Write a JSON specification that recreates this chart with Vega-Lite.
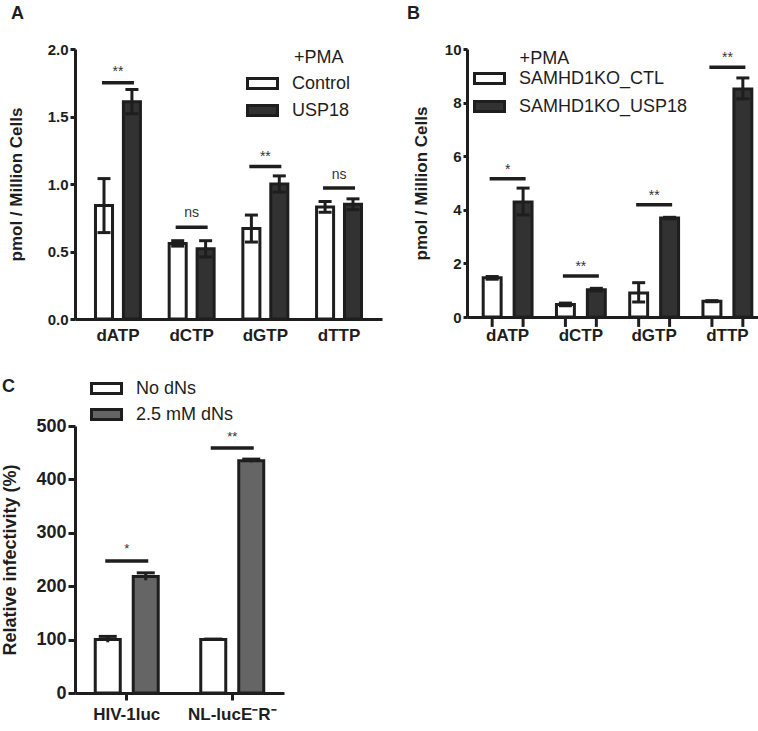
{
  "$schema": "https://vega.github.io/schema/vega-lite/v6.json",
  "padding": {"left": 1, "top": 5, "right": 0, "bottom": 0},
  "background": "white",
  "config": {
    "font": "Liberation Sans",
    "view": {"stroke": null},
    "axis": {"domainColor": "#1e1e1e", "domainWidth": 3, "tickColor": "#1e1e1e", "tickWidth": 3, "labelColor": "#1e1e1e", "titleColor": "#1e1e1e", "labelFontWeight": "bold", "titleFontWeight": "bold", "grid": false, "labelFont": "Liberation Sans", "titleFont": "Liberation Sans"},
    "legend": {"labelFont": "Liberation Sans", "titleFont": "Liberation Sans", "labelFontSize": 18, "labelColor": "#1e1e1e", "labelLimit": 300, "titleFontSize": 18, "titleFontWeight": "normal", "titleColor": "#1e1e1e", "symbolType": "M-1.5,-0.5H1.5V0.5H-1.5Z", "symbolSize": 400, "symbolStrokeColor": "#1e1e1e", "symbolStrokeWidth": 3, "labelOffset": 18, "rowPadding": 4},
    "title": {"fontSize": 18, "fontWeight": "bold", "anchor": "start", "frame": "group", "color": "#1e1e1e", "font": "Liberation Sans"}
  },
  "datasets": {
    "a": [
      {"nt": "dATP", "grp": "Control", "mean": 0.84, "lo": 0.64, "hi": 1.04},
      {"nt": "dATP", "grp": "USP18", "mean": 1.61, "lo": 1.52, "hi": 1.70},
      {"nt": "dCTP", "grp": "Control", "mean": 0.56, "lo": 0.54, "hi": 0.58},
      {"nt": "dCTP", "grp": "USP18", "mean": 0.52, "lo": 0.46, "hi": 0.58},
      {"nt": "dGTP", "grp": "Control", "mean": 0.67, "lo": 0.57, "hi": 0.77},
      {"nt": "dGTP", "grp": "USP18", "mean": 1.00, "lo": 0.94, "hi": 1.06},
      {"nt": "dTTP", "grp": "Control", "mean": 0.83, "lo": 0.79, "hi": 0.87},
      {"nt": "dTTP", "grp": "USP18", "mean": 0.85, "lo": 0.81, "hi": 0.89}
    ],
    "as": [
      {"nt": "dATP", "line": 1.75, "ty": 1.80, "lab": "**"},
      {"nt": "dCTP", "line": 0.68, "ty": 0.754, "lab": "ns"},
      {"nt": "dGTP", "line": 1.13, "ty": 1.17, "lab": "**"},
      {"nt": "dTTP", "line": 0.97, "ty": 1.04, "lab": "ns"}
    ],
    "ah": [
      {"nt": "dTTP", "ty": 1.896, "lab": "+PMA"}
    ],
    "b": [
      {"nt": "dATP", "grp": "SAMHD1KO_CTL", "mean": 1.46, "lo": 1.41, "hi": 1.51},
      {"nt": "dATP", "grp": "SAMHD1KO_USP18", "mean": 4.29, "lo": 3.81, "hi": 4.81},
      {"nt": "dCTP", "grp": "SAMHD1KO_CTL", "mean": 0.47, "lo": 0.42, "hi": 0.52},
      {"nt": "dCTP", "grp": "SAMHD1KO_USP18", "mean": 1.02, "lo": 0.97, "hi": 1.07},
      {"nt": "dGTP", "grp": "SAMHD1KO_CTL", "mean": 0.90, "lo": 0.56, "hi": 1.28},
      {"nt": "dGTP", "grp": "SAMHD1KO_USP18", "mean": 3.69, "lo": 3.66, "hi": 3.72},
      {"nt": "dTTP", "grp": "SAMHD1KO_CTL", "mean": 0.59, "lo": 0.57, "hi": 0.61},
      {"nt": "dTTP", "grp": "SAMHD1KO_USP18", "mean": 8.51, "lo": 8.14, "hi": 8.92}
    ],
    "bs": [
      {"nt": "dATP", "line": 5.16, "ty": 5.35, "lab": "*"},
      {"nt": "dCTP", "line": 1.53, "ty": 1.72, "lab": "**"},
      {"nt": "dGTP", "line": 4.19, "ty": 4.37, "lab": "**"},
      {"nt": "dTTP", "line": 9.32, "ty": 9.5, "lab": "**"}
    ],
    "bh": [
      {"nt": "dATP", "ty": 9.44, "lab": "+PMA"}
    ],
    "c": [
      {"cond": "HIV-1luc", "grp": "No dNs", "mean": 100, "lo": 95, "hi": 106},
      {"cond": "HIV-1luc", "grp": "2.5 mM dNs", "mean": 218, "lo": 211, "hi": 225},
      {"cond": "NL-lucE\u207bR\u207b", "grp": "No dNs", "mean": 100, "lo": 99, "hi": 101},
      {"cond": "NL-lucE\u207bR\u207b", "grp": "2.5 mM dNs", "mean": 435, "lo": 432, "hi": 438}
    ],
    "cs": [
      {"cond": "HIV-1luc", "line": 247, "ty": 262, "lab": "*"},
      {"cond": "NL-lucE\u207bR\u207b", "line": 459, "ty": 472, "lab": "**"}
    ]
  },
  "resolve": {"scale": {"fill": "independent", "xOffset": "independent"}, "legend": {"fill": "independent"}},
  "align": "none",
  "vconcat": [
    {
      "bounds": "flush",
      "spacing": 85,
      "resolve": {"scale": {"fill": "independent", "xOffset": "independent"}, "legend": {"fill": "independent"}},
      "hconcat": [
        {
          "width": 307,
          "height": 270,
          "title": {"text": "A", "dx": -64, "dy": -15},
          "layer": [
            {
              "data": {"name": "a"},
              "mark": {"type": "bar", "stroke": "#1e1e1e", "strokeWidth": 3},
              "encoding": {
                "x": {"field": "nt", "type": "nominal", "title": null, "scale": {"domain": ["dATP", "dCTP", "dGTP", "dTTP"], "paddingInner": 0.39, "paddingOuter": 0.278}, "axis": {"ticks": false, "labelFontSize": 17, "labelPadding": 8, "labelAngle": 0}},
                "xOffset": {"field": "grp", "type": "nominal", "scale": {"domain": ["Control", "USP18"], "paddingInner": 0.39, "paddingOuter": 0}},
                "y": {"field": "mean", "type": "quantitative", "title": "pmol / Million Cells", "scale": {"domain": [0, 2], "nice": false}, "axis": {"values": [0, 0.5, 1, 1.5, 2], "format": ".1f", "labelFontSize": 15, "tickSize": 5, "labelPadding": 2, "titleFontSize": 17, "titlePadding": 22}},
                "fill": {"field": "grp", "type": "nominal", "scale": {"domain": ["Control", "USP18"], "range": ["#ffffff", "#323232"]}, "legend": {"title": null, "orient": "none", "legendX": 176, "legendY": 23, "rowPadding": 4}}
              }
            },
            {
              "data": {"name": "a"},
              "mark": {"type": "rule", "stroke": "#1e1e1e", "strokeWidth": 3},
              "encoding": {
                "x": {"field": "nt", "type": "nominal", "title": null},
                "xOffset": {"field": "grp", "type": "nominal"},
                "y": {"field": "lo", "type": "quantitative", "title": "pmol / Million Cells"},
                "y2": {"field": "hi"}
              }
            },
            {
              "data": {"name": "a"},
              "mark": {"type": "tick", "orient": "horizontal", "color": "#1e1e1e", "size": 13, "thickness": 3, "opacity": 1},
              "encoding": {
                "x": {"field": "nt", "type": "nominal", "title": null},
                "xOffset": {"field": "grp", "type": "nominal"},
                "y": {"field": "hi", "type": "quantitative", "title": "pmol / Million Cells"}
              }
            },
            {
              "data": {"name": "a"},
              "mark": {"type": "tick", "orient": "horizontal", "color": "#1e1e1e", "size": 13, "thickness": 3, "opacity": 1},
              "encoding": {
                "x": {"field": "nt", "type": "nominal", "title": null},
                "xOffset": {"field": "grp", "type": "nominal"},
                "y": {"field": "lo", "type": "quantitative", "title": "pmol / Million Cells"}
              }
            },
            {
              "data": {"name": "as"},
              "mark": {"type": "tick", "orient": "horizontal", "color": "#1e1e1e", "size": 32, "thickness": 3.5, "opacity": 1},
              "encoding": {
                "x": {"field": "nt", "type": "nominal", "title": null},
                "y": {"field": "line", "type": "quantitative", "title": "pmol / Million Cells"}
              }
            },
            {
              "data": {"name": "as"},
              "mark": {"type": "text", "fontSize": 14, "color": "#333333", "baseline": "alphabetic"},
              "encoding": {
                "x": {"field": "nt", "type": "nominal", "title": null},
                "y": {"field": "ty", "type": "quantitative", "title": "pmol / Million Cells"},
                "text": {"field": "lab"}
              }
            },
            {
              "data": {"name": "ah"},
              "mark": {"type": "text", "fontSize": 18, "color": "#1e1e1e", "baseline": "alphabetic", "align": "left", "dx": -45},
              "encoding": {
                "x": {"field": "nt", "type": "nominal", "title": null},
                "y": {"field": "ty", "type": "quantitative", "title": "pmol / Million Cells"},
                "text": {"field": "lab"}
              }
            }
          ]
        },
        {
          "width": 295,
          "height": 268,
          "title": {"text": "B", "dx": -60, "dy": -15},
          "layer": [
            {
              "data": {"name": "b"},
              "mark": {"type": "bar", "stroke": "#1e1e1e", "strokeWidth": 3},
              "encoding": {
                "x": {"field": "nt", "type": "nominal", "title": null, "scale": {"domain": ["dATP", "dCTP", "dGTP", "dTTP"], "paddingInner": 0.333, "paddingOuter": 0.18, "align": 0.614}, "axis": {"ticks": false, "labelFontSize": 17, "labelPadding": 10, "labelAngle": 0}},
                "xOffset": {"field": "grp", "type": "nominal", "scale": {"domain": ["SAMHD1KO_CTL", "SAMHD1KO_USP18"], "paddingInner": 0.42, "paddingOuter": 0}},
                "y": {"field": "mean", "type": "quantitative", "title": "pmol / Million Cells", "scale": {"domain": [0, 10], "nice": false}, "axis": {"values": [0, 2, 4, 6, 8, 10], "format": "d", "labelFontSize": 15, "tickSize": 4, "labelPadding": 2, "titleFontSize": 17, "titlePadding": 14}},
                "fill": {"field": "grp", "type": "nominal", "scale": {"domain": ["SAMHD1KO_CTL", "SAMHD1KO_USP18"], "range": ["#ffffff", "#323232"]}, "legend": {"title": null, "orient": "none", "legendX": 11, "legendY": 18, "rowPadding": 5}}
              }
            },
            {
              "data": {"name": "b"},
              "mark": {"type": "rule", "stroke": "#1e1e1e", "strokeWidth": 3},
              "encoding": {
                "x": {"field": "nt", "type": "nominal", "title": null},
                "xOffset": {"field": "grp", "type": "nominal"},
                "y": {"field": "lo", "type": "quantitative", "title": "pmol / Million Cells"},
                "y2": {"field": "hi"}
              }
            },
            {
              "data": {"name": "b"},
              "mark": {"type": "tick", "orient": "horizontal", "color": "#1e1e1e", "size": 13, "thickness": 3, "opacity": 1},
              "encoding": {
                "x": {"field": "nt", "type": "nominal", "title": null},
                "xOffset": {"field": "grp", "type": "nominal"},
                "y": {"field": "hi", "type": "quantitative", "title": "pmol / Million Cells"}
              }
            },
            {
              "data": {"name": "b"},
              "mark": {"type": "tick", "orient": "horizontal", "color": "#1e1e1e", "size": 13, "thickness": 3, "opacity": 1},
              "encoding": {
                "x": {"field": "nt", "type": "nominal", "title": null},
                "xOffset": {"field": "grp", "type": "nominal"},
                "y": {"field": "lo", "type": "quantitative", "title": "pmol / Million Cells"}
              }
            },
            {
              "data": {"name": "b"},
              "mark": {"type": "rule", "stroke": "#1e1e1e", "strokeWidth": 3},
              "encoding": {
                "x": {"field": "nt", "type": "nominal", "title": null},
                "xOffset": {"field": "grp", "type": "nominal"},
                "y": {"datum": 0, "type": "quantitative"},
                "y2": {"datum": -0.37}
              }
            },
            {
              "data": {"name": "bs"},
              "mark": {"type": "tick", "orient": "horizontal", "color": "#1e1e1e", "size": 36, "thickness": 3.5, "opacity": 1},
              "encoding": {
                "x": {"field": "nt", "type": "nominal", "title": null},
                "y": {"field": "line", "type": "quantitative", "title": "pmol / Million Cells"}
              }
            },
            {
              "data": {"name": "bs"},
              "mark": {"type": "text", "fontSize": 14, "color": "#333333", "baseline": "alphabetic"},
              "encoding": {
                "x": {"field": "nt", "type": "nominal", "title": null},
                "y": {"field": "ty", "type": "quantitative", "title": "pmol / Million Cells"},
                "text": {"field": "lab"}
              }
            },
            {
              "data": {"name": "bh"},
              "mark": {"type": "text", "fontSize": 18, "color": "#1e1e1e", "baseline": "alphabetic", "align": "left", "dx": 12},
              "encoding": {
                "x": {"field": "nt", "type": "nominal", "title": null},
                "y": {"field": "ty", "type": "quantitative", "title": "pmol / Million Cells"},
                "text": {"field": "lab"}
              }
            }
          ]
        }
      ]
    },
    {
      "width": 209,
      "height": 267,
      "title": {"text": "C", "dx": -73, "dy": 23},
      "layer": [
        {
          "data": {"name": "c"},
          "mark": {"type": "bar", "stroke": "#1e1e1e", "strokeWidth": 3},
          "encoding": {
            "x": {"field": "cond", "type": "nominal", "title": null, "scale": {"domain": ["HIV-1luc", "NL-lucE\u207bR\u207b"], "paddingInner": 0.403, "paddingOuter": 0.192}, "axis": {"ticks": true, "tickSize": 7, "labelFontSize": 17, "labelPadding": 6, "labelAngle": 0}},
            "xOffset": {"field": "grp", "type": "nominal", "scale": {"domain": ["No dNs", "2.5 mM dNs"], "paddingInner": 0.342, "paddingOuter": 0}},
            "y": {"field": "mean", "type": "quantitative", "title": "Relative infectivity (%)", "scale": {"domain": [0, 500], "nice": false}, "axis": {"values": [0, 100, 200, 300, 400, 500], "format": "d", "labelFontSize": 18, "tickSize": 7, "labelPadding": 2, "titleFontSize": 18, "titlePadding": 16}},
            "fill": {"field": "grp", "type": "nominal", "scale": {"domain": ["No dNs", "2.5 mM dNs"], "range": ["#ffffff", "#656565"]}, "legend": {"title": null, "orient": "none", "legendX": 20, "legendY": -49, "rowPadding": 3}}
          }
        },
        {
          "data": {"name": "c"},
          "mark": {"type": "rule", "stroke": "#1e1e1e", "strokeWidth": 3},
          "encoding": {
            "x": {"field": "cond", "type": "nominal", "title": null},
            "xOffset": {"field": "grp", "type": "nominal"},
            "y": {"field": "lo", "type": "quantitative", "title": "Relative infectivity (%)"},
            "y2": {"field": "hi"}
          }
        },
        {
          "data": {"name": "c"},
          "mark": {"type": "tick", "orient": "horizontal", "color": "#1e1e1e", "size": 18, "thickness": 3, "opacity": 1},
          "encoding": {
            "x": {"field": "cond", "type": "nominal", "title": null},
            "xOffset": {"field": "grp", "type": "nominal"},
            "y": {"field": "hi", "type": "quantitative", "title": "Relative infectivity (%)"}
          }
        },
        {
          "data": {"name": "cs"},
          "mark": {"type": "tick", "orient": "horizontal", "color": "#1e1e1e", "size": 43, "thickness": 3.5, "opacity": 1},
          "encoding": {
            "x": {"field": "cond", "type": "nominal", "title": null},
            "y": {"field": "line", "type": "quantitative", "title": "Relative infectivity (%)"}
          }
        },
        {
          "data": {"name": "cs"},
          "mark": {"type": "text", "fontSize": 13, "color": "#333333", "baseline": "alphabetic"},
          "encoding": {
            "x": {"field": "cond", "type": "nominal", "title": null},
            "y": {"field": "ty", "type": "quantitative", "title": "Relative infectivity (%)"},
            "text": {"field": "lab"}
          }
        }
      ]
    }
  ],
  "spacing": 34
}
